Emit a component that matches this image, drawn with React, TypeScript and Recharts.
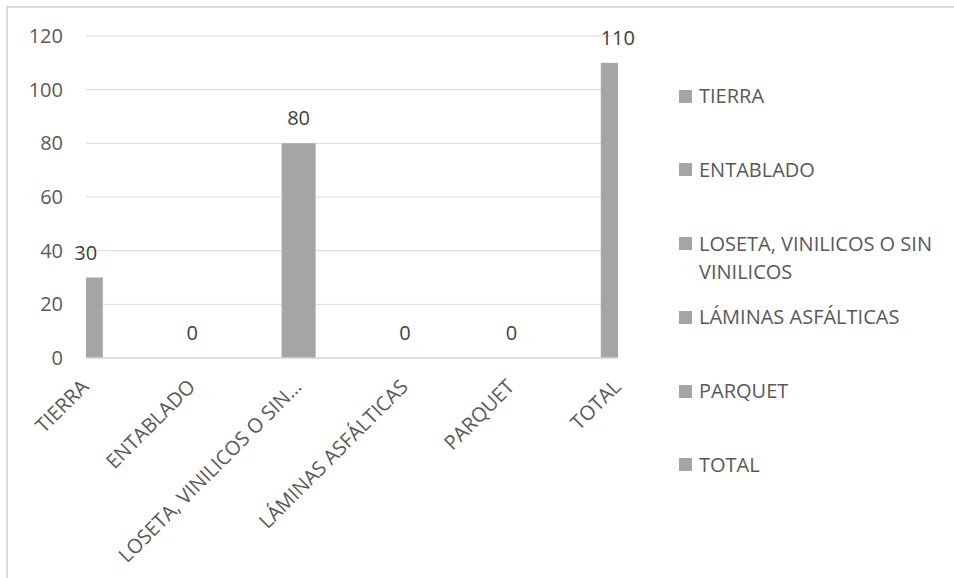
import React from "react";
import { BarChart, Bar, XAxis, YAxis, CartesianGrid, Legend, LabelList } from "recharts";

const categories = ["TIERRA", "ENTABLADO", "LOSETA, VINILICOS O SIN VINILICOS", "LÁMINAS ASFÁLTICAS", "PARQUET", "TOTAL"];
const tickLabels = ["TIERRA", "ENTABLADO", "LOSETA, VINILICOS O SIN…", "LÁMINAS ASFÁLTICAS", "PARQUET", "TOTAL"];
const values = [30, 0, 80, 0, 0, 110];
const yTicks = [0, 20, 40, 60, 80, 100, 120];

const data = categories.map((name, i) => ({ idx: i, name, value: values[i] }));

const W = 946;
const H = 560;
const MARGIN = { top: 28, right: 336, bottom: 10, left: 0 };
const Y_AXIS_W = 78;
const PLOT_LEFT = MARGIN.left + Y_AXIS_W;
const PLOT_RIGHT = W - MARGIN.right;

const BAR_COLOR = "#a5a5a5";
const GRID = "#d9d9d9";
const AXIS_TEXT = "#595959";
const FONT = "'Open Sans', sans-serif";

const ClippedBar = (props: any) => {
  const { x, y, width, height, fill } = props;
  const x0 = Math.max(x, PLOT_LEFT);
  const x1 = Math.min(x + width, PLOT_RIGHT);
  if (x1 <= x0 || !(height > 0)) return null;
  return <rect x={x0} y={y} width={x1 - x0} height={height} fill={fill} />;
};

const LegendContent = () => (
  <div style={{ fontFamily: FONT, fontSize: 20, color: AXIS_TEXT }}>
    {categories.map((c) => (
      <div key={c} style={{ height: 73.8, display: "flex", alignItems: "flex-start" }}>
        <div style={{ width: 13, height: 13, background: BAR_COLOR, marginTop: 7.5, marginRight: 7, flexShrink: 0 }} />
        <div style={{ lineHeight: "28px", width: 250 }}>{c}</div>
      </div>
    ))}
  </div>
);

export default function App() {
  return (
    <div
      style={{
        position: "absolute",
        left: 6,
        top: 6,
        borderTop: `2px solid ${GRID}`,
        borderLeft: `2px solid ${GRID}`,
        width: W,
        height: 570,
        background: "#fff",
      }}
    >
      <BarChart width={W} height={H} data={data} margin={MARGIN}>
        <CartesianGrid vertical={false} stroke={GRID} strokeWidth={1} />
        <XAxis
          type="number"
          dataKey="idx"
          domain={[0, 5]}
          ticks={[0, 1, 2, 3, 4, 5]}
          interval={0}
          height={200}
          tickFormatter={(v: number) => tickLabels[v]}
          axisLine={{ stroke: GRID, strokeWidth: 1.5 }}
          tickLine={false}
          tickSize={0}
          tickMargin={20}
          angle={-45}
          textAnchor="end"
          tick={{ fill: AXIS_TEXT, fontSize: 20, fontFamily: FONT, dx: -6 }}
        />
        <YAxis
          type="number"
          domain={[0, 120]}
          ticks={yTicks}
          width={Y_AXIS_W}
          axisLine={false}
          tickLine={false}
          tickSize={0}
          tickMargin={23}
          tick={{ fill: AXIS_TEXT, fontSize: 20, fontFamily: FONT }}
        />
        <Legend
          layout="vertical"
          align="center"
          verticalAlign="middle"
          content={<LegendContent />}
          wrapperStyle={{ left: 671, top: 74, width: 270 }}
        />
        <Bar dataKey="value" fill={BAR_COLOR} barSize={34} shape={<ClippedBar />} isAnimationActive={false}>
          <LabelList
            dataKey="value"
            position="top"
            offset={18}
            style={{ fill: "#404040", fontSize: 20, fontFamily: FONT }}
          />
        </Bar>
      </BarChart>
    </div>
  );
}
